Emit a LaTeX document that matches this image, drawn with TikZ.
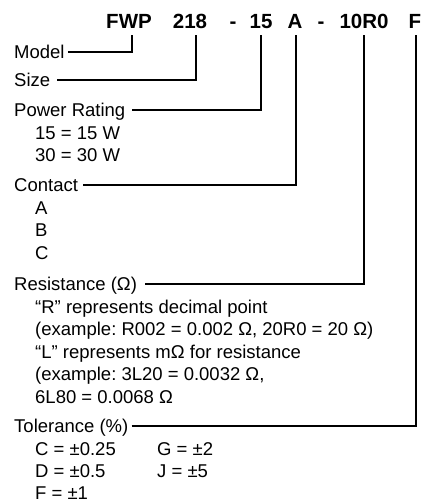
\documentclass[tikz,border=0pt]{standalone}
\usepackage{fontspec}
\setmainfont{Liberation Sans}
\frenchspacing
\begin{document}
\begin{tikzpicture}[x=1pt,y=-1pt,
  hdr/.style={font=\fontsize{20.5}{24}\selectfont\bfseries, inner sep=0pt, anchor=base},
  lbl/.style={font=\fontsize{18.5}{22}\selectfont, inner sep=0pt, anchor=base west},
  conn/.style={line width=1.1pt, black}]
\useasboundingbox (0,0) rectangle (436,502);
% header tokens
\node[hdr] (h1) at (129,29) {FWP};
\node[hdr] (h2) at (190,29) {218};
\node[hdr] (d1) at (233,29) {-};
\node[hdr] (h3) at (261,29) {15};
\node[hdr] (h4) at (295,29) {A};
\node[hdr] (d2) at (321,29) {-};
\node[hdr] (h5) at (364,29) {10R0};
\node[hdr] (h6) at (415,29) {F};
% labels
\node[lbl] (model) at (14,58.5) {Model};
\node[lbl] (size) at (14,86.5) {Size};
\node[lbl] (power) at (14,116.5) {Power Rating};
\node[lbl] (p1) at (35,139.1) {15 = 15 W};
\node[lbl] (p2) at (35,161.7) {30 = 30 W};
\node[lbl] (contact) at (14,191.5) {Contact};
\node[lbl] (c1) at (35,214.1) {A};
\node[lbl] (c2) at (35,236.7) {B};
\node[lbl] (c3) at (35,259.3) {C};
\node[lbl] (res) at (14,290.5) {Resistance (Ω)};
\node[lbl] (r1) at (35,313.1) {“R” represents decimal point};
\node[lbl] (r2) at (35,335.7) {(example: R002 = 0.002 Ω, 20R0 = 20 Ω)};
\node[lbl] (r3) at (35,358.3) {“L” represents mΩ for resistance};
\node[lbl] (r4) at (35,380.9) {(example: 3L20 = 0.0032 Ω,};
\node[lbl] (r5) at (35,403.5) {6L80 = 0.0068 Ω};
\node[lbl] (tol) at (14,432.5) {Tolerance (\%)};
\node[lbl] (t1) at (35,455.1) {C = ±0.25};
\node[lbl] (t2) at (35,477.7) {D = ±0.5};
\node[lbl] (t3) at (35,499.5) {F = ±1};
\node[lbl] (t4) at (157,455.1) {G = ±2};
\node[lbl] (t5) at (157,477.7) {J = ±5};
% connectors
\draw[conn] ([xshift=3pt,yshift=6.5pt]model.base east) -| ([xshift=3pt,yshift=-6pt]h1.base);
\draw[conn] ([xshift=7pt,yshift=6.5pt]size.base east) -| ([xshift=6pt,yshift=-6pt]h2.base);
\draw[conn] ([xshift=7pt,yshift=6.5pt]power.base east) -| ([yshift=-6pt]h3.base);
\draw[conn] ([xshift=5pt,yshift=6.5pt]contact.base east) -| ([xshift=1pt,yshift=-6pt]h4.base);
\draw[conn] ([xshift=8pt,yshift=6.5pt]res.base east) -| ([yshift=-6pt]h5.base);
\draw[conn] ([xshift=3pt,yshift=6.5pt]tol.base east) -| ([xshift=1pt,yshift=-6pt]h6.base);
\end{tikzpicture}
\end{document}
